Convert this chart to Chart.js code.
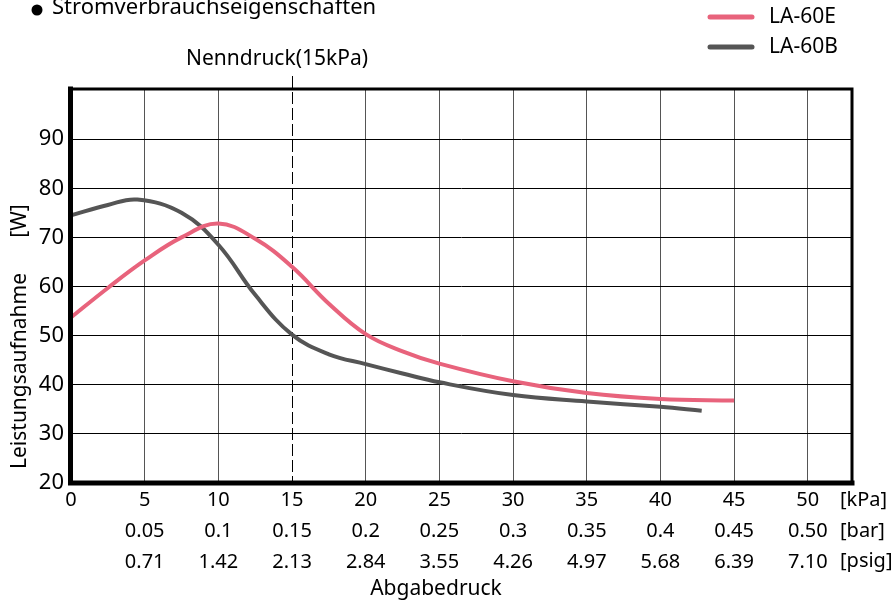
<!DOCTYPE html>
<html>
<head>
<meta charset="utf-8">
<script src="https://cdn.jsdelivr.net/npm/chart.js@4/dist/chart.umd.min.js"></script>
<style>
  html, body { margin: 0; padding: 0; background: #fff; }
  #wrap { width: 895px; height: 605px; position: relative; }
</style>
</head>
<body>
<div id="wrap"><canvas id="c" width="895" height="605"></canvas></div>
<script>
// ---- Data ----
const pressureE = [0, 2.5, 5, 7.5, 10, 12.5, 15, 17.5, 20, 22.5, 25, 30, 35, 40, 45];
const powerE    = [53.7, 59.7, 65.3, 70.0, 72.8, 69.7, 64.0, 56.5, 50.3, 46.8, 44.3, 40.7, 38.3, 37.1, 36.8];
const pressureB = [0, 2.5, 4.5, 7.5, 10, 12.5, 15, 17.5, 20, 22.5, 25, 30, 35, 40, 42.8];
const powerB    = [74.5, 76.6, 77.7, 75.0, 68.5, 58.3, 50.2, 46.2, 44.2, 42.3, 40.5, 37.9, 36.6, 35.5, 34.7];
const kpaLabels  = ["0", "5", "10", "15", "20", "25", "30", "35", "40", "45", "50"];
const barLabels  = ["", "0.05", "0.1", "0.15", "0.2", "0.25", "0.3", "0.35", "0.4", "0.45", "0.50"];
const psigLabels = ["", "0.71", "1.42", "2.13", "2.84", "3.55", "4.26", "4.97", "5.68", "6.39", "7.10"];
const unitLabels = ["[kPa]", "[bar]", "[psig]"];
const seriesNames = ["LA-60E", "LA-60B"];
const seriesColors = ["#e8637c", "#555555"];
const ratedPressure = 15;

const FONT = "'Noto Sans', 'Open Sans', sans-serif";

const toPoints = (xs, ys) => xs.map((x, i) => ({ x: x, y: ys[i] }));

const decor = {
  id: 'decor',
  beforeDatasetsDraw(chart) {
    const ctx = chart.ctx, a = chart.chartArea, xs = chart.scales.x;
    const px = Math.round(xs.getPixelForValue(ratedPressure)) + 0.5;
    ctx.save();
    ctx.strokeStyle = '#000';
    ctx.lineWidth = 1;
    ctx.setLineDash([12, 4]);
    ctx.beginPath();
    ctx.moveTo(px, 76);
    ctx.lineTo(px, a.bottom);
    ctx.stroke();
    ctx.restore();
  },
  afterDraw(chart) {
    const ctx = chart.ctx, a = chart.chartArea;
    ctx.save();
    // frame
    ctx.strokeStyle = '#000';
    ctx.lineCap = 'square';
    ctx.lineWidth = 3;
    ctx.beginPath();
    ctx.moveTo(a.left, a.top - 1); ctx.lineTo(a.right, a.top - 1);
    ctx.moveTo(a.right, a.top - 1); ctx.lineTo(a.right, a.bottom);
    ctx.stroke();
    ctx.lineWidth = 5;
    ctx.beginPath();
    ctx.moveTo(a.left - 0.5, a.top - 1); ctx.lineTo(a.left - 0.5, a.bottom);
    ctx.lineTo(a.right, a.bottom);
    ctx.stroke();

    ctx.fillStyle = '#000';
    // title
    ctx.font = "22px " + FONT;
    ctx.textBaseline = 'middle';
    ctx.textAlign = 'left';
    ctx.beginPath(); ctx.arc(37, 10, 5.5, 0, Math.PI * 2); ctx.fill();
    ctx.fillText("Stromverbrauchseigenschaften", 52, 8);

    // rated pressure label
    ctx.font = "21px " + FONT;
    ctx.textAlign = 'center';
    ctx.fillText("Nenndruck(15kPa)", 277, 59);

    // legend
    ctx.lineCap = 'round';
    ctx.lineWidth = 5;
    const ly = [17, 47];
    for (let i = 0; i < seriesNames.length; i++) {
      ctx.strokeStyle = seriesColors[i];
      ctx.beginPath(); ctx.moveTo(710, ly[i]); ctx.lineTo(752, ly[i]); ctx.stroke();
      ctx.textAlign = 'left';
      ctx.fillText(seriesNames[i], 769, ly[i]);
    }

    // unit labels
    ctx.font = "20px " + FONT;
    ctx.textAlign = 'left';
    const uy = [500, 531, 561];
    for (let i = 0; i < unitLabels.length; i++) ctx.fillText(unitLabels[i], 840, uy[i]);

    // x axis title
    ctx.font = "21px " + FONT;
    ctx.textAlign = 'center';
    ctx.fillText("Abgabedruck", 436, 589);

    // y axis title
    ctx.save();
    ctx.translate(20, 0);
    ctx.rotate(-Math.PI / 2);
    ctx.textAlign = 'center';
    ctx.fillText("Leistungsaufnahme", -371, 0);
    ctx.fillText("[W]", -221, 0);
    ctx.restore();
    ctx.restore();
  }
};

new Chart(document.getElementById('c'), {
  type: 'line',
  data: {
    datasets: [
      { label: seriesNames[0], data: toPoints(pressureE, powerE), borderColor: seriesColors[0],
        borderWidth: 4, pointRadius: 0, tension: 0.4, fill: false },
      { label: seriesNames[1], data: toPoints(pressureB, powerB), borderColor: seriesColors[1],
        borderWidth: 4, pointRadius: 0, tension: 0.4, fill: false }
    ]
  },
  options: {
    responsive: false,
    animation: false,
    layout: { padding: { top: 90, right: 43, left: 0, bottom: 0 } },
    plugins: { legend: { display: false }, tooltip: { enabled: false } },
    scales: {
      x: {
        type: 'linear', min: 0, max: 53,
        afterFit(s) { s.height = 122; },
        afterBuildTicks(s) { s.ticks = kpaLabels.map((_, i) => ({ value: i * 5 })); },
        ticks: {
          autoSkip: false, maxRotation: 0, padding: 2, color: '#000',
          font: { family: FONT, size: 20, lineHeight: 1.55 },
          callback(v) {
            const i = Math.round(v / 5);
            return [kpaLabels[i], barLabels[i], psigLabels[i]];
          }
        },
        grid: {
          drawTicks: false,
          color: (c) => (c.tick && (c.tick.value === ratedPressure || c.tick.value === 0)) ? 'rgba(0,0,0,0)' : '#555',
          lineWidth: 1
        },
        border: { display: false }
      },
      y: {
        min: 20, max: 100,
        afterFit(s) { s.width = 71; },
        ticks: {
          stepSize: 10, padding: 7, color: '#000',
          font: { family: FONT, size: 22 },
          callback(v) { return v === 100 ? '' : String(v); }
        },
        grid: {
          drawTicks: false,
          color: (c) => (c.tick && (c.tick.value === 100 || c.tick.value === 20)) ? 'rgba(0,0,0,0)' : '#000',
          lineWidth: 1
        },
        border: { display: false }
      }
    }
  },
  plugins: [decor]
});
</script>
</body>
</html>
